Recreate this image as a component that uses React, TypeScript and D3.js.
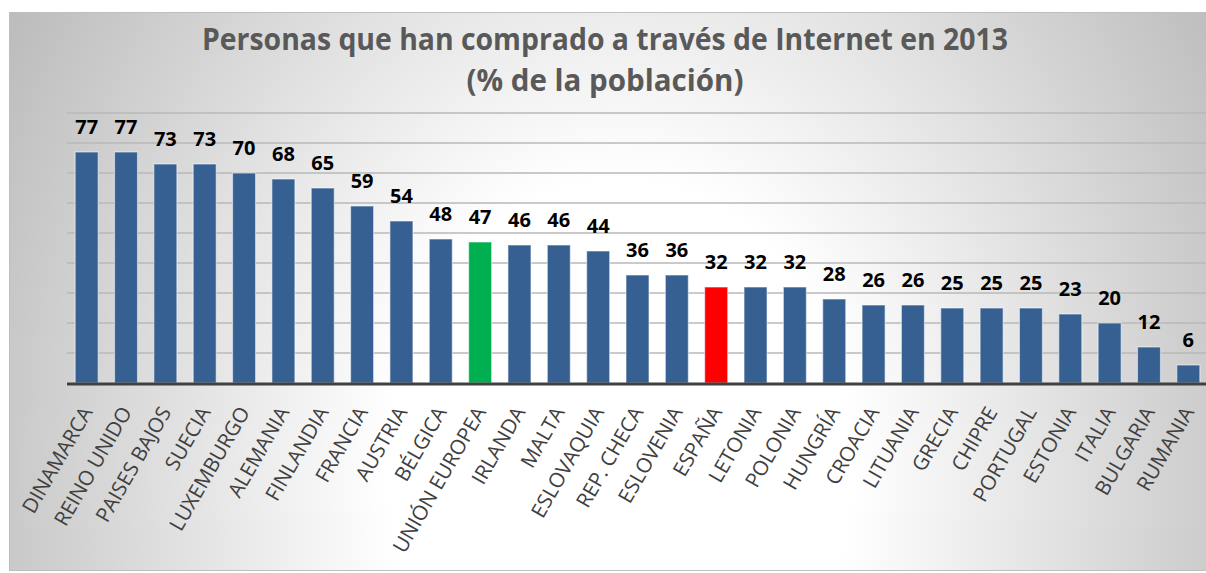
import React, { useEffect, useRef } from "react";
import * as d3 from "d3";

const countries = [
  "DINAMARCA", "REINO UNIDO", "PAISES BAJOS", "SUECIA", "LUXEMBURGO",
  "ALEMANIA", "FINLANDIA", "FRANCIA", "AUSTRIA", "BÉLGICA",
  "UNIÓN EUROPEA", "IRLANDA", "MALTA", "ESLOVAQUIA", "REP. CHECA",
  "ESLOVENIA", "ESPAÑA", "LETONIA", "POLONIA", "HUNGRÍA",
  "CROACIA", "LITUANIA", "GRECIA", "CHIPRE", "PORTUGAL",
  "ESTONIA", "ITALIA", "BULGARIA", "RUMANIA"
];
const values = [
  77, 77, 73, 73, 70, 68, 65, 59, 54, 48, 47, 46, 46, 44, 36,
  36, 32, 32, 32, 28, 26, 26, 25, 25, 25, 23, 20, 12, 6
];
const gridTicks = [10, 20, 30, 40, 50, 60, 70, 80, 90];
const titleLines = [
  "Personas que han comprado a través de Internet en 2013",
  "(% de la población)"
];
const highlight: Record<string, string> = {
  "UNIÓN EUROPEA": "#00b050",
  "ESPAÑA": "#ff0000"
};

const width = 1206;
const height = 573;
const barColor = "#366092";

export default function App() {
  const ref = useRef<SVGSVGElement>(null);

  useEffect(() => {
    const svg = d3.select(ref.current);
    svg.selectAll("*").remove();

    const defs = svg.append("defs");
    const grad = defs
      .append("radialGradient")
      .attr("id", "bg")
      .attr("gradientUnits", "userSpaceOnUse")
      .attr("cx", 620)
      .attr("cy", 470)
      .attr("r", 700)
      .attr("gradientTransform", "translate(620,470) scale(1,1.25) translate(-620,-470)");
    grad.append("stop").attr("offset", 0).attr("stop-color", "#ffffff");
    grad.append("stop").attr("offset", 0.33).attr("stop-color", "#ffffff");
    grad.append("stop").attr("offset", 1).attr("stop-color", "#bdbdbd");

    svg.append("rect").attr("width", width).attr("height", height).attr("fill", "#fff");
    svg
      .append("rect")
      .attr("x", 9.5)
      .attr("y", 12.5)
      .attr("width", 1205)
      .attr("height", 558)
      .attr("fill", "url(#bg)")
      .attr("stroke", "#bfbfbf");

    const x = d3
      .scaleBand()
      .domain(countries)
      .range([67, 1208])
      .paddingInner(0.415)
      .paddingOuter(0.2075);
    const y = d3.scaleLinear().domain([0, 90]).range([383, 113]);

    // grid
    svg
      .append("g")
      .selectAll("line")
      .data(gridTicks)
      .join("line")
      .attr("x1", 67)
      .attr("x2", 1208)
      .attr("y1", d => y(d))
      .attr("y2", d => y(d))
      .attr("stroke", "#b8b8b8")
      .attr("stroke-width", 1.5);

    // bars
    svg
      .append("g")
      .selectAll("rect")
      .data(values)
      .join("rect")
      .attr("x", (d, i) => x(countries[i])!)
      .attr("y", d => y(d))
      .attr("width", x.bandwidth())
      .attr("height", d => y(0) - y(d))
      .attr("fill", (d, i) => highlight[countries[i]] || barColor)
      .attr("stroke", "#ffffff")
      .attr("stroke-opacity", 0.5)
      .attr("stroke-width", 1.2);

    // baseline
    svg
      .append("line")
      .attr("x1", 67)
      .attr("x2", 1208)
      .attr("y1", y(0) + 1)
      .attr("y2", y(0) + 1)
      .attr("stroke", "#404040")
      .attr("stroke-width", 3);

    // value labels
    svg
      .append("g")
      .selectAll("text")
      .data(values)
      .join("text")
      .attr("x", (d, i) => x(countries[i])! + x.bandwidth() / 2)
      .attr("y", d => y(d) - 18)
      .attr("text-anchor", "middle")
      .attr("font-family", "'Open Sans', sans-serif")
      .attr("font-weight", 700)
      .attr("font-size", 20)
      .attr("fill", "#000")
      .text(d => d);

    // category labels
    svg
      .append("g")
      .selectAll("text")
      .data(countries)
      .join("text")
      .attr("transform", d => `translate(${x(d)! + x.bandwidth() / 2 + 6.5},412) rotate(-60)`)
      .attr("text-anchor", "end")
      .attr("font-family", "'Open Sans', sans-serif")
      .attr("font-size", 20.5)
      .attr("fill", "#404040")
      .text(d => d);

    // title
    const tl = [806, 277];
    const ty = [50, 91];
    svg
      .append("g")
      .selectAll("text")
      .data(titleLines)
      .join("text")
      .attr("x", 605)
      .attr("y", (d, i) => ty[i])
      .attr("text-anchor", "middle")
      .attr("font-family", "'Open Sans', sans-serif")
      .attr("font-weight", 700)
      .attr("font-size", 30)
      .attr("fill", "#595959")
      .attr("textLength", (d, i) => tl[i])
      .attr("lengthAdjust", "spacingAndGlyphs")
      .text(d => d);
  }, []);

  return (
    <svg
      ref={ref}
      width={width}
      height={height}
      viewBox={`0 0 ${width} ${height}`}
      style={{ position: "absolute", left: 0, top: 0, display: "block" }}
    ></svg>
  );
}
